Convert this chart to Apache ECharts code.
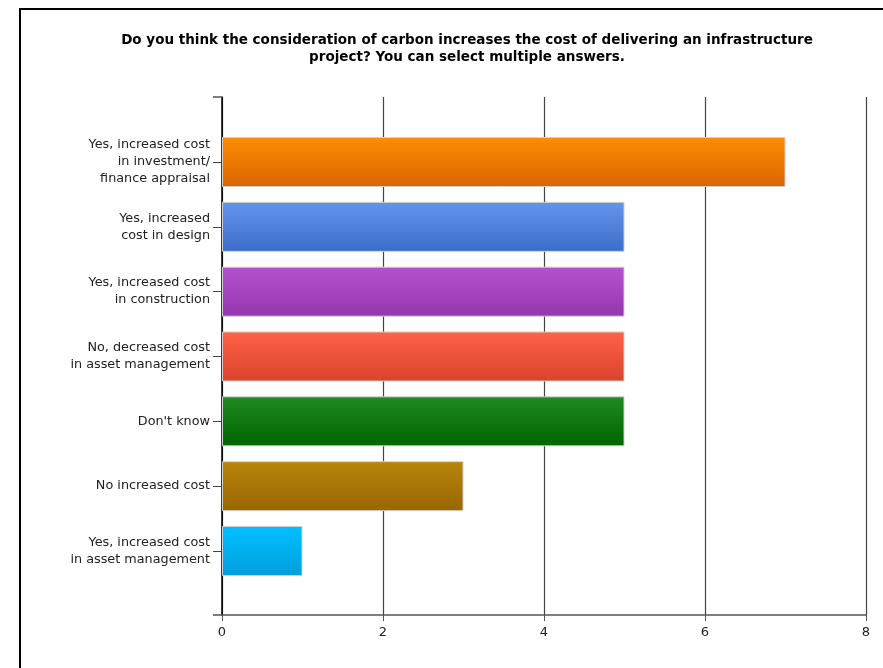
<!DOCTYPE html>
<html>
<head>
<meta charset="utf-8">
<script src="https://cdn.jsdelivr.net/npm/echarts@6/dist/echarts.min.js"></script>
<style>
  html, body { margin: 0; padding: 0; background: #fff; }
  #chart { width: 883px; height: 668px; }
</style>
</head>
<body>
<div id="chart"></div>
<script>
// question + answers, top to bottom
const titleText = "Do you think the consideration of carbon increases the cost of delivering an infrastructure\nproject? You can select multiple answers.";
const categories = [
    "Yes, increased cost\nin investment/\nfinance appraisal",
    "Yes, increased\ncost in design",
    "Yes, increased cost\nin construction",
    "No, decreased cost\nin asset management",
    "Don't know",
    "No increased cost",
    "Yes, increased cost\nin asset management"
];
const counts = [7, 5, 5, 5, 5, 3, 1];
// top / bottom colour of each bar gradient
const barTop = ["#ff8c00", "#6495ed", "#b452cd", "#ff6347", "#228b22", "#b8860b", "#00bfff"];
const barBottom = ["#d96500", "#3b6dc8", "#9436b0", "#d9432b", "#006400", "#996600", "#009fdb"];
const xTicks = [0, 2, 4, 6, 8];

const font = "DejaVu Sans";

let chart = echarts.init(document.getElementById("chart"));

let data = counts.map((v, i) => ({
    value: v,
    itemStyle: {
        color: new echarts.graphic.LinearGradient(0, 0, 0, 1, [
            {offset: 0, color: barTop[i]},
            {offset: 1, color: barBottom[i]}
        ]),
        borderColor: "#d0d0d0",
        borderWidth: 1
    }
}));

let option = {
    animation: false,
    backgroundColor: "#fff",
    title: {
        text: titleText,
        left: 462,
        top: 27,
        textAlign: "center",
        textStyle: {fontFamily: font, fontSize: 13.5, fontWeight: "bold", color: "#000", lineHeight: 17}
    },
    graphic: [{
        type: "polyline",
        shape: {points: [[20, 668], [20, 9], [883, 9]]},
        style: {stroke: "#000", lineWidth: 2, fill: null}
    }],
    grid: [
        // frame: axes, gridlines, x labels
        {left: 222, right: 17, top: 97, bottom: 53},
        // bars
        {left: 222, right: 17, top: 129.6, bottom: 84.6}
    ],
    xAxis: [
        {
            type: "value", gridIndex: 0, min: xTicks[0], max: xTicks[xTicks.length - 1], interval: 2,
            axisLine: {show: true, lineStyle: {color: "#555", width: 1.5}},
            axisTick: {show: true, length: 6, lineStyle: {color: "#555"}},
            axisLabel: {fontFamily: font, fontSize: 13, color: "#222", margin: 11},
            splitLine: {show: true, lineStyle: {color: "#444", width: 1.2}}
        },
        {
            type: "value", gridIndex: 1, min: 0, max: 8, show: false
        }
    ],
    yAxis: [
        {
            type: "value", gridIndex: 0, min: 0, max: 1, interval: 1,
            axisLine: {show: true, lineStyle: {color: "#000", width: 1.5}},
            axisTick: {show: true, length: 9, lineStyle: {color: "#555", width: 1.5}},
            axisLabel: {show: false},
            splitLine: {show: false}
        },
        {
            type: "category", gridIndex: 1, inverse: true, data: categories,
            axisLine: {show: false},
            axisTick: {show: true, alignWithLabel: true, length: 9, lineStyle: {color: "#444"}},
            axisLabel: {fontFamily: font, fontSize: 12.8, color: "#222", margin: 12, lineHeight: 17, align: "right"}
        }
    ],
    series: [{
        type: "bar",
        xAxisIndex: 1,
        yAxisIndex: 1,
        data: data,
        barWidth: 50
    }]
};

chart.setOption(option);
</script>
</body>
</html>
